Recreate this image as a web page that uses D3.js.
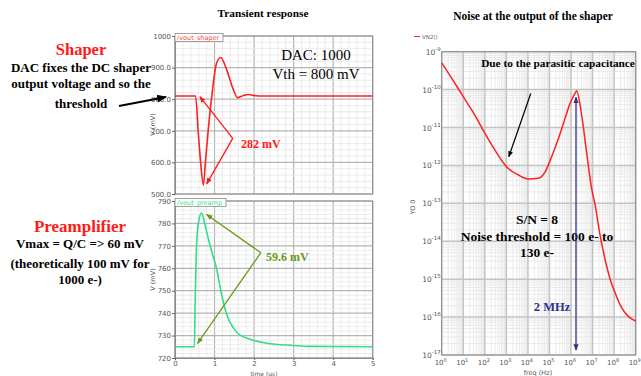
<!DOCTYPE html>
<html>
<head>
<meta charset="utf-8">
<script src="https://cdn.jsdelivr.net/npm/d3@7"></script>
<style>
  body { margin: 0; background: #fff; }
  svg { display: block; font-family: "Liberation Serif", serif; }
  .tick text { font-family: "DejaVu Sans", sans-serif; font-size: 7px; fill: #555; }
</style>
</head>
<body>
<svg id="chart" width="641" height="376"></svg>
<script>
// transient response, shaper output (time in us, value in mV)
const shaperTime = [0, 0.52, 0.59, 0.65, 0.72, 0.76, 0.84, 0.93, 1.05, 1.155, 1.31, 1.48, 1.58, 1.73, 1.86, 1.98, 2.23, 5];
const shaperMv   = [810, 810, 692, 597, 528, 586, 702, 810, 913, 932, 892, 829, 805, 812, 815, 812, 810, 810];

// transient response, preamp output
const preampTime = [0, 0.49, 0.51, 0.54, 0.59, 0.67, 0.76, 0.84, 0.93, 1.05, 1.18, 1.31, 1.48, 1.60, 1.90, 2.32, 3.0, 3.4, 5];
const preampMv   = [725, 725, 745, 768, 780, 784.6, 779.3, 773.4, 767.4, 760, 748.2, 739.3, 733.3, 730.8, 728.4, 726.6, 725.6, 725.2, 725];

// noise spectrum at shaper output
const noiseFreq = [1, 2.9, 10, 35, 100, 300, 1e3, 3.6e3, 1.05e4, 3.1e4, 6.3e4, 1.26e5, 2.6e5, 5.2e5, 9.1e5, 1.6e6, 1.8e6, 3.2e6, 5.4e6, 9.1e6, 1.3e7, 2.2e7, 3.8e7, 6.5e7, 1.1e8, 1.9e8, 3.2e8, 5.5e8, 1e9];
const noiseVal  = [5.1e-10, 2.0e-10, 6.5e-11, 2.1e-11, 7.1e-12, 2.5e-12, 9.3e-13, 5.6e-13, 4.4e-13, 4.6e-13, 6.8e-13, 1.7e-12, 5.1e-12, 1.7e-11, 4.4e-11, 8.3e-11, 9.3e-11, 1.9e-11, 2.0e-12, 2.4e-13, 9.3e-14, 1.5e-14, 3.3e-15, 1.0e-15, 4.4e-16, 2.1e-16, 1.3e-16, 9.5e-17, 7.9e-17];

// ticks
const timeTicks = [0, 1, 2, 3, 4, 5];
const shaperTicks = [500, 600, 700, 800, 900, 1000];
const shaperTickLabels = ["500.0", "600.0", "700.0", "800.0", "900.0", "1000"];
const preampTicks = [720, 730, 740, 750, 760, 770, 780, 790];
const freqExp = [0, 1, 2, 3, 4, 5, 6, 7, 8, 9];
const noiseExp = [-17, -16, -15, -14, -13, -12, -11, -10, -9];

const svg = d3.select("#chart");

const x = d3.scaleLinear().domain([0, 5]).range([175, 372.7]);
const yS = d3.scaleLinear().domain([500, 1000]).range([194, 36]);
const yP = d3.scaleLinear().domain([720, 790]).range([358, 201]);
const fx = d3.scaleLog().domain([1, 1e9]).range([441.7, 635.7]);
const fy = d3.scaleLog().domain([1e-17, 1e-9]).range([355, 51.7]);

const defs = svg.append("defs");
function marker(id, color) {
  defs.append("marker")
    .attr("id", id).attr("viewBox", "0 0 10 10")
    .attr("refX", 9).attr("refY", 5)
    .attr("markerWidth", 5).attr("markerHeight", 5)
    .attr("orient", "auto-start-reverse")
    .append("path").attr("d", "M0,1 L10,5 L0,9 Z").attr("fill", color);
}
marker("ar-red", "#ff1a1a");
marker("ar-green", "#6a9a14");
marker("ar-blue", "#2e3192");
marker("ar-black", "#000");

// linear grid for the transient panels
function linPanel(ys, yMin, yMax, yStep, yMinor) {
  const g = svg.append("g");
  const [x0, x1] = x.range();
  const [yb, yt] = ys.range();
  g.append("rect").attr("x", x0).attr("y", yt).attr("width", x1 - x0).attr("height", yb - yt).attr("fill", "#fff");
  for (let t = 0; t <= 5.0001; t += 0.2) {
    const major = Math.abs(t - Math.round(t)) < 1e-6;
    g.append("line").attr("x1", x(t)).attr("x2", x(t)).attr("y1", yt).attr("y2", yb)
      .attr("stroke", major ? "#b4b4b4" : "#e6e6e6").attr("stroke-width", major ? 1.2 : 0.8);
  }
  for (let v = yMin; v <= yMax + 1e-6; v += yMinor) {
    const major = Math.abs((v - yMin) % yStep) < 1e-6 || Math.abs((v - yMin) % yStep - yStep) < 1e-6;
    g.append("line").attr("x1", x0).attr("x2", x1).attr("y1", ys(v)).attr("y2", ys(v))
      .attr("stroke", major ? "#b4b4b4" : "#e6e6e6").attr("stroke-width", major ? 1.2 : 0.8);
  }
  g.append("rect").attr("x", x0).attr("y", yt).attr("width", x1 - x0).attr("height", yb - yt)
    .attr("fill", "none").attr("stroke", "#8a8a8a").attr("stroke-width", 1);
  return g;
}

function tab(ys, label, color, w) {
  const yt = ys.range()[1];
  svg.append("rect").attr("x", x(0)).attr("y", yt - 2.5).attr("width", w).attr("height", 8)
    .attr("fill", "#fff").attr("stroke", "#8a8a8a").attr("stroke-width", 0.8);
  svg.append("text").attr("x", x(0) + 2).attr("y", yt + 4).attr("font-family", "DejaVu Sans, sans-serif")
    .attr("font-size", 6.5).attr("fill", color).text(label);
}

// ---------- shaper panel ----------
linPanel(yS, 500, 1000, 100, 20);
svg.append("g").attr("transform", `translate(${x(0)},0)`)
  .call(d3.axisLeft(yS).tickValues(shaperTicks).tickFormat((d, i) => shaperTickLabels[i]).tickSize(3).tickPadding(1))
  .call(g => g.select(".domain").attr("stroke", "#8a8a8a"))
  .call(g => g.selectAll(".tick line").attr("stroke", "#666"));

svg.append("path")
  .datum(shaperTime.map((t, i) => [t, shaperMv[i]]))
  .attr("fill", "none").attr("stroke", "#ff2020").attr("stroke-width", 1.6)
  .attr("d", d3.line().x(d => x(d[0])).y(d => yS(d[1])).curve(d3.curveMonotoneX));
tab(yS, "/vout_shaper", "#ff4040", 48);

// ---------- preamp panel ----------
linPanel(yP, 720, 790, 10, 2);
svg.append("g").attr("transform", `translate(${x(0)},0)`)
  .call(d3.axisLeft(yP).tickValues(preampTicks).tickFormat(d3.format("d")).tickSize(3).tickPadding(1))
  .call(g => g.select(".domain").attr("stroke", "#8a8a8a"))
  .call(g => g.selectAll(".tick line").attr("stroke", "#666"));
svg.append("g").attr("transform", `translate(0,${yP(720)})`)
  .call(d3.axisBottom(x).tickValues(timeTicks).tickFormat(d3.format("d")).tickSize(2).tickPadding(1))
  .call(g => g.select(".domain").attr("stroke", "#8a8a8a"))
  .call(g => g.selectAll(".tick line").attr("stroke", "#666"))
  .call(g => g.selectAll(".tick text").attr("font-size", 6.5));

svg.append("path")
  .datum(preampTime.map((t, i) => [t, preampMv[i]]))
  .attr("fill", "none").attr("stroke", "#35dc8a").attr("stroke-width", 1.6)
  .attr("d", d3.line().x(d => x(d[0])).y(d => yP(d[1])).curve(d3.curveMonotoneX));
tab(yP, "/vout_preamp", "#35dc8a", 51);

// axis labels
const sans = "DejaVu Sans, sans-serif";
svg.append("text").attr("transform", `translate(155,${yS(720)}) rotate(-90)`).attr("text-anchor", "middle")
  .attr("font-family", sans).attr("font-size", 6.5).attr("fill", "#555").text("V (mV)");
svg.append("text").attr("transform", `translate(155,${yP(755)}) rotate(-90)`).attr("text-anchor", "middle")
  .attr("font-family", sans).attr("font-size", 6.5).attr("fill", "#555").text("V (mV)");
svg.append("text").attr("x", x(2.25)).attr("y", 376).attr("text-anchor", "middle")
  .attr("font-family", sans).attr("font-size", 6).attr("fill", "#555").text("time (us)");

// annotations transient
svg.append("text").attr("x", 263).attr("y", 17).attr("text-anchor", "middle")
  .attr("font-weight", "bold").attr("font-size", 11.3).text("Transient response");
svg.append("text").attr("x", 316).attr("y", 60).attr("text-anchor", "middle").attr("font-size", 15).text("DAC: 1000");
svg.append("text").attr("x", 316).attr("y", 79).attr("text-anchor", "middle").attr("font-size", 15).text("Vth = 800 mV");

function arrow(p0, p1, color, id, w) {
  svg.append("line").attr("x1", p0[0]).attr("y1", p0[1]).attr("x2", p1[0]).attr("y2", p1[1])
    .attr("stroke", color).attr("stroke-width", w).attr("marker-end", `url(#${id})`);
}
arrow([x(1.46), yS(676)], [x(0.63), yS(808)], "#ff1a1a", "ar-red", 1.3);
arrow([x(1.46), yS(676)], [x(0.80), yS(532)], "#ff1a1a", "ar-red", 1.3);
svg.append("text").attr("x", 241).attr("y", 148).attr("font-weight", "bold").attr("font-size", 12)
  .attr("fill", "#ff1a1a").text("282 mV");

arrow([x(2.17), yP(766.9)], [x(0.80), yP(784)], "#6a9a14", "ar-green", 1.3);
arrow([x(2.17), yP(766.9)], [x(0.57), yP(726.5)], "#6a9a14", "ar-green", 1.3);
svg.append("text").attr("x", 266).attr("y", 261).attr("font-weight", "bold").attr("font-size", 12)
  .attr("fill", "#6a9a14").text("59.6 mV");

// left side notes
svg.append("text").attr("x", 81).attr("y", 55).attr("text-anchor", "middle").attr("font-weight", "bold")
  .attr("font-size", 16.5).attr("fill", "#ff1a1a").text("Shaper");
const shaperNote = ["DAC fixes the DC shaper", "output voltage and so the", "threshold"];
const shaperNoteY = [72, 88, 108];
shaperNote.forEach((s, i) => svg.append("text").attr("x", 81).attr("y", shaperNoteY[i]).attr("text-anchor", "middle")
  .attr("font-weight", "bold").attr("font-size", 13).text(s));
svg.append("line").attr("x1", 119).attr("y1", 106).attr("x2", 166).attr("y2", 97)
  .attr("stroke", "#000").attr("stroke-width", 2).attr("marker-end", "url(#ar-black)");

svg.append("text").attr("x", 80).attr("y", 232).attr("text-anchor", "middle").attr("font-weight", "bold")
  .attr("font-size", 17).attr("fill", "#ff1a1a").text("Preamplifier");
const preNote = ["Vmax = Q/C => 60 mV", "(theoretically 100 mV for", "1000 e-)"];
const preNoteY = [248, 267.5, 283.5];
preNote.forEach((s, i) => svg.append("text").attr("x", 80).attr("y", preNoteY[i]).attr("text-anchor", "middle")
  .attr("font-weight", "bold").attr("font-size", 13).text(s));

// ---------- noise panel ----------
const ng = svg.append("g");
const [fx0, fx1] = fx.range();
const [fyb, fyt] = fy.range();
ng.append("rect").attr("x", fx0).attr("y", fyt).attr("width", fx1 - fx0).attr("height", fyb - fyt).attr("fill", "#fff");
freqExp.forEach(e => {
  if (e < 9) for (let m = 2; m <= 9; m++) {
    const f = m * Math.pow(10, e);
    ng.append("line").attr("x1", fx(f)).attr("x2", fx(f)).attr("y1", fyt).attr("y2", fyb)
      .attr("stroke", "#e6e6e6").attr("stroke-width", 0.8);
  }
});
noiseExp.forEach(e => {
  if (e < -9) for (let m = 2; m <= 9; m++) {
    const v = m * Math.pow(10, e);
    ng.append("line").attr("x1", fx0).attr("x2", fx1).attr("y1", fy(v)).attr("y2", fy(v))
      .attr("stroke", "#e6e6e6").attr("stroke-width", 0.8);
  }
});
freqExp.forEach(e => ng.append("line").attr("x1", fx(Math.pow(10, e))).attr("x2", fx(Math.pow(10, e)))
  .attr("y1", fyt).attr("y2", fyb).attr("stroke", "#c4c4c4").attr("stroke-width", 1.5));
noiseExp.forEach(e => ng.append("line").attr("x1", fx0).attr("x2", fx1)
  .attr("y1", fy(Math.pow(10, e))).attr("y2", fy(Math.pow(10, e))).attr("stroke", "#c4c4c4").attr("stroke-width", 1.5));
ng.append("rect").attr("x", fx0).attr("y", fyt).attr("width", fx1 - fx0).attr("height", fyb - fyt)
  .attr("fill", "none").attr("stroke", "#8a8a8a");

// log tick labels with superscripts
noiseExp.forEach(e => {
  const t = ng.append("text").attr("x", fx0 - 1).attr("y", fy(Math.pow(10, e)) + 3).attr("text-anchor", "end")
    .attr("font-family", sans).attr("font-size", 7.5).attr("fill", "#555");
  t.append("tspan").text("10");
  t.append("tspan").attr("dy", -4).attr("font-size", 5.5).text(String(e));
});
freqExp.forEach(e => {
  const t = ng.append("text").attr("x", fx(Math.pow(10, e)) - 1).attr("y", 365).attr("text-anchor", "middle")
    .attr("font-family", sans).attr("font-size", 7).attr("fill", "#555");
  t.append("tspan").text("10");
  t.append("tspan").attr("dy", -3.5).attr("font-size", 5).text(String(e));
});
ng.append("text").attr("x", 538).attr("y", 375).attr("text-anchor", "middle")
  .attr("font-family", sans).attr("font-size", 6.5).attr("fill", "#555").text("freq (Hz)");
ng.append("text").attr("transform", "translate(415,207) rotate(-90)").attr("text-anchor", "middle")
  .attr("font-family", sans).attr("font-size", 6.5).attr("fill", "#555").text("YO 0");

// legend
ng.append("line").attr("x1", 414).attr("x2", 420).attr("y1", 36.5).attr("y2", 36.5).attr("stroke", "#ff2020").attr("stroke-width", 1);
ng.append("text").attr("x", 422).attr("y", 38.5).attr("font-family", sans).attr("font-size", 5.5).attr("fill", "#666").text("VN2()");

ng.append("path")
  .datum(noiseFreq.map((f, i) => [f, noiseVal[i]]))
  .attr("fill", "none").attr("stroke", "#ff2020").attr("stroke-width", 1.5)
  .attr("d", d3.line().x(d => fx(d[0])).y(d => fy(d[1])).curve(d3.curveMonotoneX));

ng.append("text").attr("x", 533).attr("y", 20).attr("text-anchor", "middle")
  .attr("font-weight", "bold").attr("font-size", 11.5).text("Noise at the output of the shaper");
ng.append("text").attr("x", 558).attr("y", 67).attr("text-anchor", "middle")
  .attr("font-weight", "bold").attr("font-size", 11.3).text("Due to the parasitic capacitance");

arrow([fx(1.35e4), fy(7.9e-11)], [fx(1.3e3), fy(1.7e-12)], "#000", "ar-black", 1.2);

// 2 MHz double arrow
svg.append("line").attr("x1", fx(1.7e6)).attr("x2", fx(1.7e6)).attr("y1", fy(6.3e-11)).attr("y2", fy(1.35e-17))
  .attr("stroke", "#2e3192").attr("stroke-width", 1.3)
  .attr("marker-start", "url(#ar-blue)").attr("marker-end", "url(#ar-blue)");
ng.append("text").attr("x", 552).attr("y", 311).attr("text-anchor", "middle")
  .attr("font-weight", "bold").attr("font-size", 12.5).attr("fill", "#2e3192").text("2 MHz");

const snNote = ["S/N = 8", "Noise threshold = 100 e- to", "130 e-"];
const snNoteY = [224, 241, 257];
snNote.forEach((s, i) => ng.append("text").attr("x", 537).attr("y", snNoteY[i]).attr("text-anchor", "middle")
  .attr("font-weight", "bold").attr("font-size", 13.5).text(s));
</script>
</body>
</html>
